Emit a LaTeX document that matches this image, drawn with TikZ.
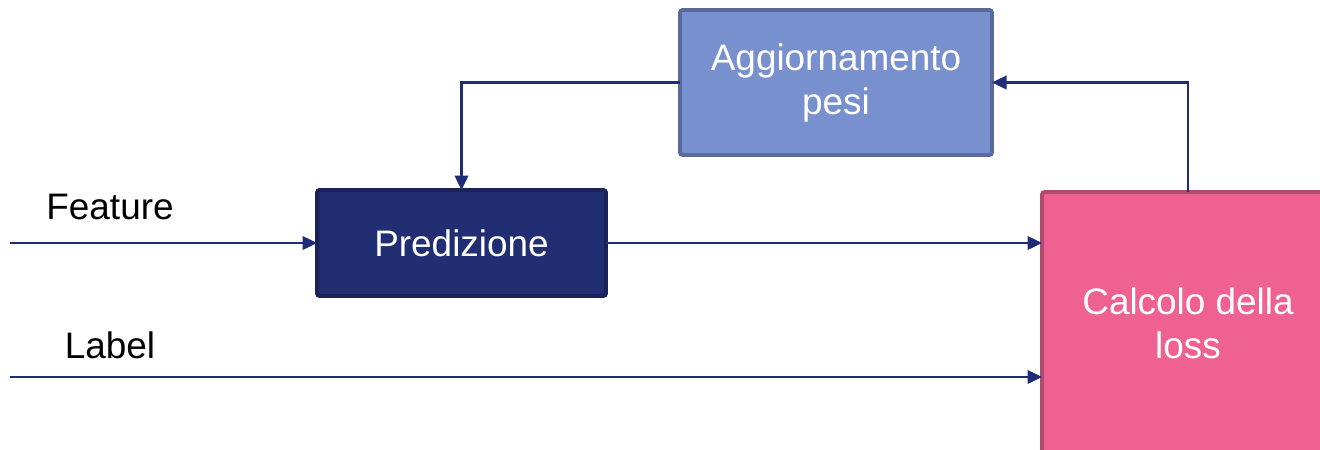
\documentclass[tikz,border=0pt]{standalone}
\usepackage{fontspec}
\setmainfont{Liberation Sans}
\usetikzlibrary{arrows.meta}
\definecolor{navy}{HTML}{1F2D78}
\definecolor{predfill}{HTML}{212E72}
\definecolor{predline}{HTML}{1A2258}
\definecolor{aggfill}{HTML}{7890CE}
\definecolor{aggline}{HTML}{5A6A9A}
\definecolor{lossfill}{HTML}{EF6190}
\definecolor{lossline}{HTML}{B24A70}
\tikzset{
  px/.style={x=0.02cm,y=-0.02cm},
  blockbox/.style={draw, line width=2.2pt, rounded corners=1.5pt, outer sep=0pt, inner sep=0pt,
    text=white, align=center, font=\fontsize{21}{25}\selectfont},
  conn/.style={draw=navy, line width=1.4pt, -{Triangle[length=0.29cm,width=0.27cm]}},
  lbl/.style={font=\fontsize{21}{25}\selectfont, text=black}
}
\begin{document}
\begin{tikzpicture}[px]
\useasboundingbox (0,0) rectangle (1320,450);
\clip (0,0) rectangle (1320,450);
\node[blockbox, fill=aggfill, draw=aggline, minimum width=312*0.02cm, minimum height=145*0.02cm] (agg) at (836,82.5) {Aggiornamento\\pesi};
\node[blockbox, fill=predfill, draw=predline, minimum width=289*0.02cm, minimum height=106*0.02cm] (pred) at (461.5,243) {Predizione};
\node[blockbox, fill=lossfill, draw=lossline, minimum width=292*0.02cm, minimum height=263*0.02cm] (loss) at (1188,323.5) {Calcolo della\\loss};
\coordinate (fin) at (10,243);
\coordinate (lin) at (10,377);
\node[lbl] (featlbl) at (110,207) {Feature};
\node[lbl] (labellbl) at (110,345) {Label};
\draw[conn] (fin) -- (pred.west);
\draw[conn] (pred.east) -- (pred.east -| loss.west);
\draw[conn] (lin) -- (lin -| loss.west);
\draw[conn] (loss.north) -- (loss.north |- agg.east) -- (agg.east);
\draw[conn] (agg.west) -- (agg.west -| pred.north) -- (pred.north);
\end{tikzpicture}
\end{document}
